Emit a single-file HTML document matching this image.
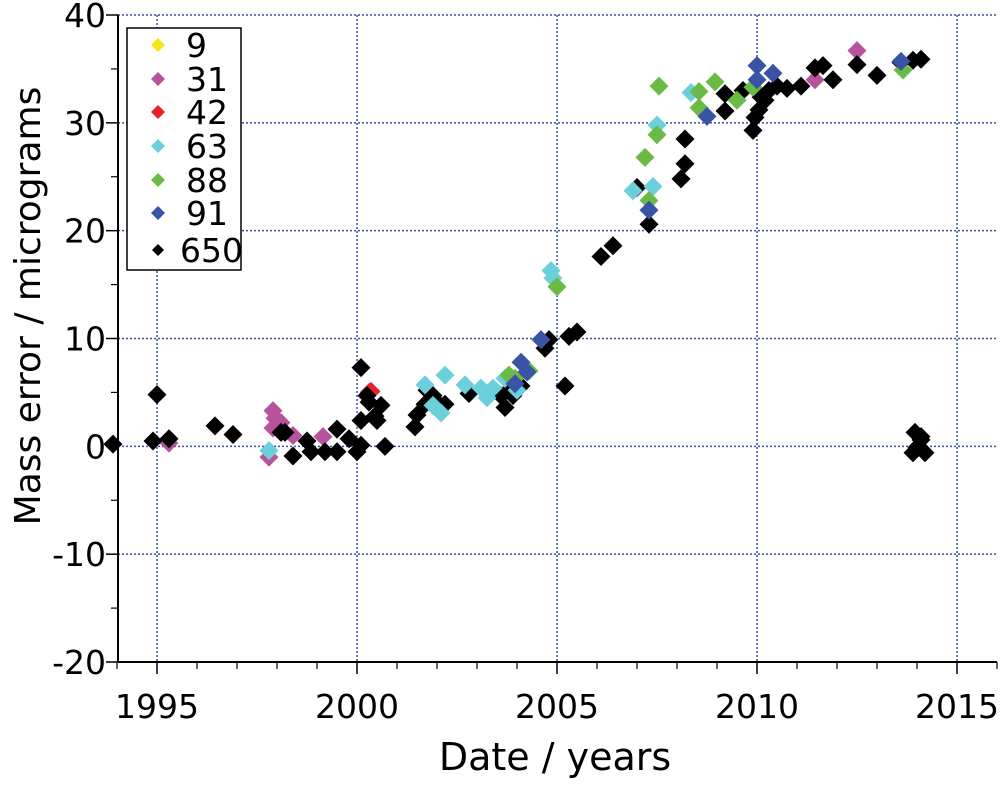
<!DOCTYPE html>
<html><head><meta charset="utf-8"><style>
body{margin:0;background:#fff}
text{font-family:"DejaVu Sans","Liberation Sans",sans-serif;fill:#000}
</style></head><body>
<svg id="chart" width="1004" height="780" xmlns="http://www.w3.org/2000/svg">
<g id="grid"></g>
<g id="axes"></g>
<g id="marks"></g>
<text transform="translate(40,306) rotate(-90)" text-anchor="middle" font-size="36">Mass error / micrograms</text>
<text x="555" y="770" text-anchor="middle" font-size="38">Date / years</text>
<g id="legend"></g>
</svg>
<script>
const xTicks=[1995,2000,2005,2010,2015];
const yTicks=[-20,-10,0,10,20,30,40];
const seriesNames=["9","31","42","63","88","91","650"];
const seriesColors=["#f5e61a","#b8529c","#e8202a","#6ccfdc","#6abb45","#3a53a4","#000000"];
const s9=[];
const s31=[[1995.3,0.3],[1997.9,3.3],[1997.95,2.6],[1998.1,2.2],[1997.9,1.7],[1997.8,-1.0],[1998.4,1.0],[1999.15,0.9],[2000.3,5.0],[2012.5,36.7],[2011.45,34.0]];
const s42=[[2000.35,5.1]];
const s63=[[1997.8,-0.4],[2001.7,5.7],[2002.2,6.6],[2002.1,3.1],[2001.9,3.8],[2002.7,5.7],[2003.1,5.4],[2003.25,4.5],[2003.4,5.4],[2003.7,6.3],[2004.0,5.2],[2004.85,16.3],[2004.9,15.6],[2006.9,23.7],[2007.4,24.1],[2007.5,29.8],[2008.35,32.8]];
const s88=[[2003.8,6.6],[2003.95,6.3],[2004.3,7.0],[2005.0,14.8],[2007.2,26.8],[2007.3,22.8],[2007.5,28.9],[2007.55,33.4],[2008.55,31.4],[2008.55,32.9],[2008.95,33.8],[2009.5,32.1],[2009.9,33.3],[2013.65,34.9]];
const s91=[[2003.95,5.8],[2004.1,7.8],[2004.25,6.9],[2004.6,9.9],[2007.3,21.9],[2008.75,30.6],[2010.0,35.3],[2010.0,34.0],[2010.4,34.6],[2013.6,35.7]];
const s650=[[1993.9,0.2],[1995.0,4.8],[1994.9,0.5],[1995.3,0.7],[1996.45,1.9],[1996.9,1.1],[1998.1,1.3],[1998.2,1.3],[1998.4,-0.9],[1998.75,0.5],[1998.85,-0.5],[1999.2,-0.5],[1999.5,1.6],[1999.5,-0.5],[1999.8,0.7],[2000.0,-0.5],[2000.1,7.3],[2000.1,2.4],[2000.1,0.1],[2000.25,4.7],[2000.3,4.1],[2000.6,3.8],[2000.45,2.8],[2000.5,2.4],[2000.7,0],[2001.45,1.8],[2001.5,2.9],[2001.7,3.9],[2001.75,5.2],[2001.9,4.7],[2002.0,4.0],[2002.1,3.7],[2002.2,3.9],[2002.8,4.9],[2003.6,4.7],[2003.7,3.6],[2003.9,4.7],[2003.8,5.2],[2004.1,5.6],[2004.7,9.1],[2004.8,9.9],[2005.2,5.6],[2005.3,10.2],[2005.5,10.6],[2006.1,17.6],[2006.4,18.6],[2007.0,24.0],[2007.3,20.6],[2008.2,28.5],[2008.2,26.2],[2008.1,24.8],[2009.2,31.1],[2009.2,32.7],[2009.65,33.0],[2009.9,29.3],[2010.05,31.2],[2010.1,32.4],[2010.2,32.1],[2010.3,33.0],[2010.5,33.4],[2010.75,33.2],[2011.1,33.4],[2011.45,35.1],[2011.65,35.3],[2011.9,34.0],[2012.5,35.4],[2013.0,34.4],[2013.6,35.6],[2013.9,35.8],[2014.1,35.9],[2009.95,30.5],[2013.95,1.3],[2014.1,0.6],[2013.9,-0.6],[2014.2,-0.6],[2014.0,-0.1],[2014.1,0.9]];
const seriesData=[s9,s31,s42,s63,s88,s91,s650];
const drawOrder=[0,1,2,6,3,4,5];

const NS="http://www.w3.org/2000/svg";
const L=118,R=997,T=15,B=662;
const X=v=>157+(v-1995)*40;
const Y=v=>B-(v+20)*(B-T)/60;
function mk(tag,attrs,parent){const e=document.createElementNS(NS,tag);for(const k in attrs)e.setAttribute(k,attrs[k]);parent.appendChild(e);return e;}
const grid=document.getElementById('grid'),axes=document.getElementById('axes'),marks=document.getElementById('marks'),legend=document.getElementById('legend');
xTicks.forEach(t=>{const l=mk('line',{x1:X(t),x2:X(t),y1:T,y2:B,stroke:'#3b4fa8','stroke-width':1.5,'stroke-dasharray':'2,2'},grid);

const tk=mk('line',{x1:X(t),x2:X(t),y1:B,y2:B+12,stroke:'#000','stroke-width':1.5},axes);

const tx=mk('text',{x:X(t),y:718,'text-anchor':'middle','font-size':33},axes);tx.textContent=t;
});
for(let yr=1994;yr<=2016;yr++){if(yr%5===0)continue;const m=mk('line',{x1:X(yr),x2:X(yr),y1:B,y2:B+7,stroke:'#000','stroke-width':1.2},axes);
}
yTicks.forEach(t=>{const l=mk('line',{x1:L,x2:R,y1:Y(t),y2:Y(t),stroke:'#3b4fa8','stroke-width':1.5,'stroke-dasharray':'2,2'},grid);

const tk=mk('line',{x1:L-12,x2:L,y1:Y(t),y2:Y(t),stroke:'#000','stroke-width':1.5},axes);

const tx=mk('text',{x:L-12,y:Y(t)+12,'text-anchor':'end','font-size':33},axes);tx.textContent=t;

if(t<40){const m=mk('line',{x1:L-7,x2:L,y1:Y(t+5),y2:Y(t+5),stroke:'#000','stroke-width':1.2},axes);
}});
const ya=mk('line',{x1:L,x2:L,y1:T,y2:B,stroke:'#000','stroke-width':2},axes);

const xa=mk('line',{x1:L,x2:R,y1:B,y2:B,stroke:'#000','stroke-width':2},axes);

function diamond(cx,cy,h,color,parent){return mk('polygon',{points:`${cx},${cy-h} ${cx+h},${cy} ${cx},${cy+h} ${cx-h},${cy}`,fill:color},parent);}
drawOrder.forEach(si=>{seriesData[si].forEach(p=>{const d=diamond(X(p[0]),Y(p[1]),9.5,seriesColors[si],marks);
});});
const lb=mk('rect',{x:127,y:28,width:114,height:242,fill:'#fff',stroke:'#000','stroke-width':1.5},legend);

const ly=[45,79,112,146,180,213,250];
seriesNames.forEach((n,i)=>{const g=mk('g',{},legend);

diamond(158,ly[i],i===6?6:7,seriesColors[i],g);
const t=mk('text',{x:i===6?180:186,y:ly[i]+12,'font-size':33},g);t.textContent=n;});
</script>
</body></html>
